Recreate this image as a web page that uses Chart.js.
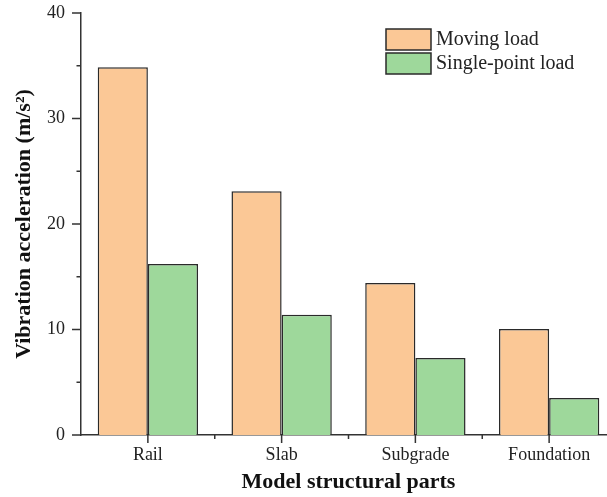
<!DOCTYPE html>
<html>
<head>
<meta charset="utf-8">
<script src="https://cdn.jsdelivr.net/npm/chart.js@4.4.1/dist/chart.umd.min.js"></script>
<style>
  html, body { margin: 0; padding: 0; background: #fff; overflow: hidden; }
  #wrap { width: 620px; height: 497px; }
</style>
</head>
<body>
<div id="wrap"><canvas id="chart" width="620" height="497"></canvas></div>
<script>
const categories = ["Rail", "Slab", "Subgrade", "Foundation"];
const movingLoad = [34.85, 23.1, 14.4, 10.05];
const singlePointLoad = [16.2, 11.4, 7.3, 3.5];
const yTicks = [0, 10, 20, 30, 40];
const yMinorTicks = [5, 15, 25, 35];

const serif = "'Liberation Serif', 'Times New Roman', serif";
const axisColor = "#333";
const barBorder = "#2a2a2a";

// axis ticks (major + minor) drawn off the scales
const tickMarks = {
  id: "tickMarks",
  afterDraw(chart) {
    const { ctx, scales: { x, y }, chartArea } = chart;
    ctx.save();
    ctx.strokeStyle = axisColor;
    ctx.lineWidth = 1.5;
    ctx.beginPath();
    yTicks.forEach((v) => {
      const py = y.getPixelForValue(v);
      ctx.moveTo(chartArea.left - 9, py);
      ctx.lineTo(chartArea.left, py);
    });
    yMinorTicks.forEach((v) => {
      const py = y.getPixelForValue(v);
      ctx.moveTo(chartArea.left - 4.5, py);
      ctx.lineTo(chartArea.left, py);
    });
    const step = x.getPixelForValue(1) - x.getPixelForValue(0);
    categories.forEach((c, i) => {
      const px = x.getPixelForValue(i);
      ctx.moveTo(px, chartArea.bottom);
      ctx.lineTo(px, chartArea.bottom + 8);
      if (i > 0) {
        ctx.moveTo(px - step / 2, chartArea.bottom);
        ctx.lineTo(px - step / 2, chartArea.bottom + 4);
      }
    });
    ctx.stroke();
    ctx.restore();
  }
};

// legend box in the top right of the plot
const boxLegend = {
  id: "boxLegend",
  afterDraw(chart) {
    const { ctx } = chart;
    ctx.save();
    ctx.font = "20px " + serif;
    ctx.textBaseline = "middle";
    chart.data.datasets.forEach((ds, i) => {
      const top = 29 + i * 24;
      ctx.fillStyle = ds.backgroundColor;
      ctx.fillRect(386, top, 45, 21);
      ctx.strokeStyle = barBorder;
      ctx.lineWidth = 1.5;
      ctx.strokeRect(386, top, 45, 21);
      ctx.fillStyle = "#222";
      ctx.fillText(ds.label, 436, top + 11);
    });
    ctx.restore();
  }
};

new Chart(document.getElementById("chart"), {
  type: "bar",
  data: {
    labels: categories,
    datasets: [
      {
        label: "Moving load",
        data: movingLoad,
        backgroundColor: "#fbc896",
        borderColor: barBorder,
        borderWidth: 1.5
      },
      {
        label: "Single-point load",
        data: singlePointLoad,
        backgroundColor: "#9ed89b",
        borderColor: barBorder,
        borderWidth: 1.5
      }
    ]
  },
  options: {
    responsive: false,
    animation: false,
    layout: { padding: { top: 13, right: 4, left: 0, bottom: 0 } },
    datasets: {
      bar: { categoryPercentage: 0.75, barPercentage: 1 }
    },
    scales: {
      x: {
        grid: { display: false, drawTicks: false },
        border: { display: true, color: axisColor, width: 1.5 },
        ticks: {
          color: "#222",
          font: { family: serif, size: 18 },
          padding: 9,
          maxRotation: 0
        },
        title: {
          display: true,
          text: "Model structural parts",
          color: "#111",
          font: { family: serif, size: 22, weight: "bold" },
          padding: { top: 0, bottom: 1 }
        },
        afterFit(scale) {
          scale.height = 62;
          scale.paddingLeft = 0;
          scale.paddingRight = 0;
        }
      },
      y: {
        min: 0,
        max: 40,
        grid: { display: false, drawTicks: false },
        border: { display: true, color: axisColor, width: 1.5 },
        ticks: {
          stepSize: 10,
          color: "#222",
          font: { family: serif, size: 18 },
          padding: 16
        },
        title: {
          display: true,
          text: "Vibration acceleration (m/s\u00B2)",
          color: "#111",
          font: { family: serif, size: 22, weight: "bold" },
          padding: { top: 11, bottom: 0 }
        },
        afterFit(scale) {
          scale.width = 81;
          scale.paddingTop = 0;
          scale.paddingBottom = 0;
        }
      }
    },
    plugins: {
      legend: { display: false },
      tooltip: { enabled: false }
    }
  },
  plugins: [tickMarks, boxLegend]
});
</script>
</body>
</html>
